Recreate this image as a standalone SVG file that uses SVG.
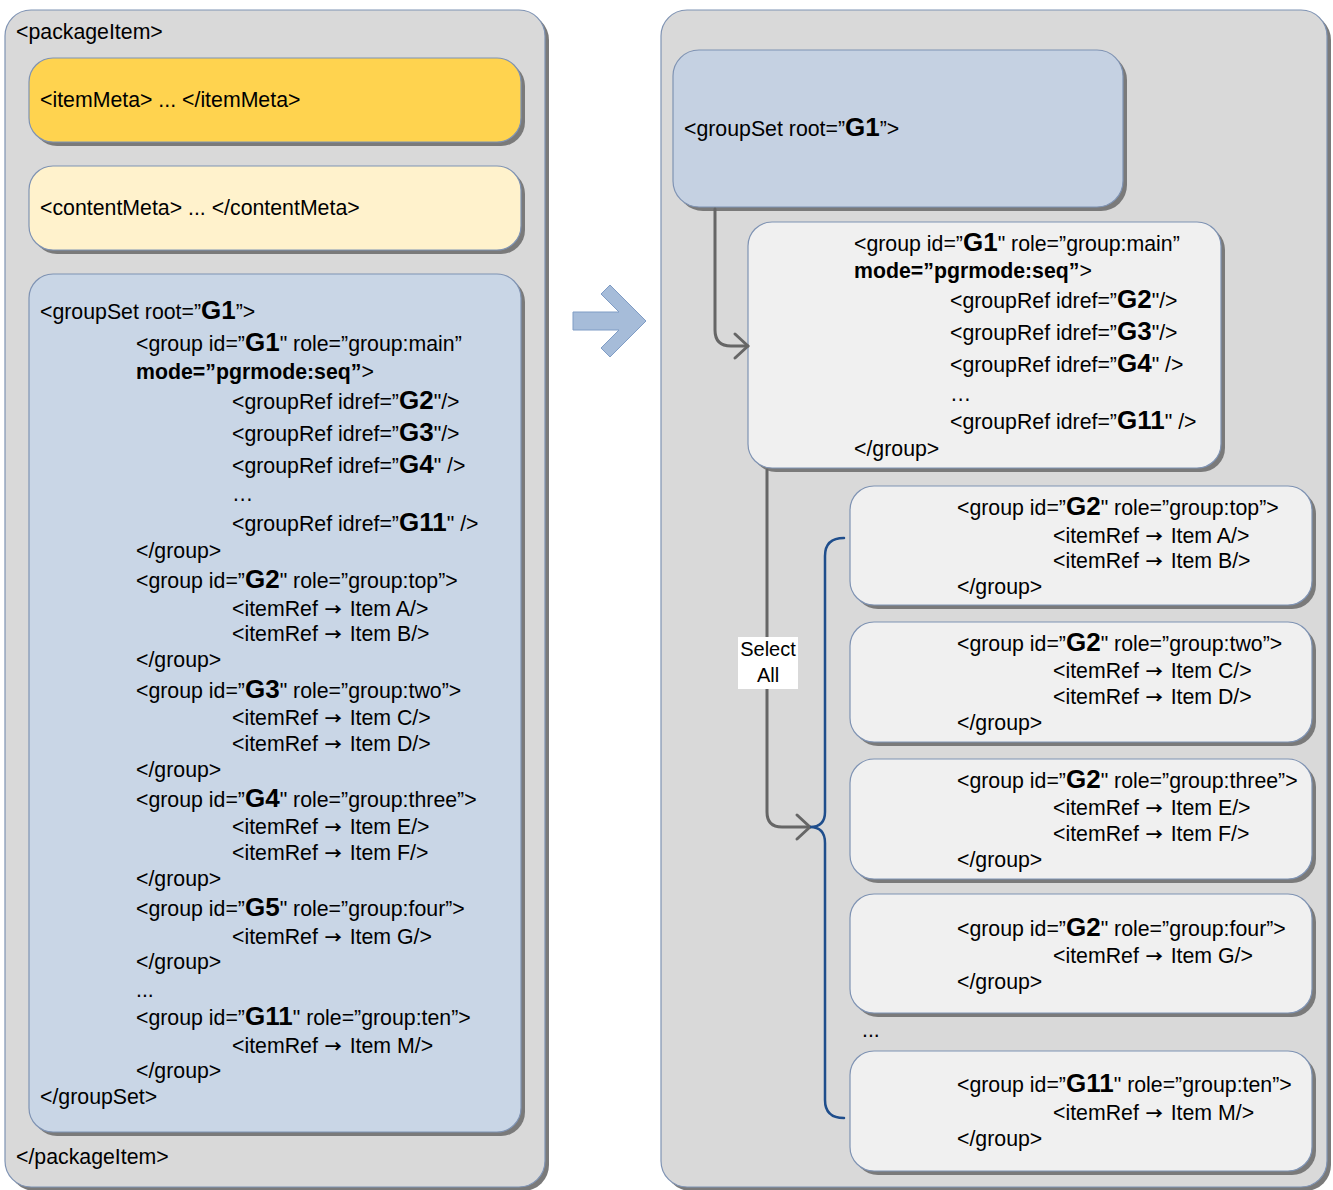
<svg xmlns="http://www.w3.org/2000/svg" width="1333" height="1190" viewBox="0 0 1333 1190">
<defs>
<style>
text{font-family:"Liberation Sans",Arial,sans-serif;font-size:21.3px;fill:#000}
.b{font-weight:bold;font-size:26px}
.mb{font-weight:bold}
.ar{font-family:"Noto Sans CJK SC",sans-serif;font-size:17px;font-weight:bold}
.sh{fill:#7a7a7a}
.panel{fill:#d9d9d9;stroke:#7f93b3;stroke-width:1.2}
.gold{fill:#ffd34f;stroke:#7f93b3;stroke-width:1.2}
.cream{fill:#fff2cc;stroke:#7f93b3;stroke-width:1.2}
.blue{fill:#c9d6e6;stroke:#7f93b3;stroke-width:1.2}
.blue2{fill:#c5d1e2;stroke:#7f93b3;stroke-width:1.2}
.grey{fill:#f0f0f0;stroke:#7f93b3;stroke-width:1.2}
.con{fill:none;stroke:#666;stroke-width:3;stroke-linecap:round;stroke-linejoin:round}
.brace{fill:none;stroke:#1f4e8c;stroke-width:2.5;stroke-linecap:round}
</style>
</defs>
<rect width="1333" height="1190" fill="#fff"/>

<g id="left-panel">
<rect class="sh" x="9" y="14" width="540" height="1177" rx="26"/>
<rect class="panel" x="5" y="10" width="540" height="1177" rx="26"/>
<text x="16" y="39">&lt;packageItem&gt;</text>
<text x="16" y="1164">&lt;/packageItem&gt;</text>
</g>

<g id="itemMeta">
<rect class="sh" x="33" y="62" width="492" height="84" rx="24"/>
<rect class="gold" x="29" y="58" width="492" height="84" rx="24"/>
<text x="40" y="107">&lt;itemMeta&gt; ... &lt;/itemMeta&gt;</text>
</g>

<g id="contentMeta">
<rect class="sh" x="33" y="170" width="492" height="84" rx="24"/>
<rect class="cream" x="29" y="166" width="492" height="84" rx="24"/>
<text x="40" y="215">&lt;contentMeta&gt; ... &lt;/contentMeta&gt;</text>
</g>

<g id="groupSet-left">
<rect class="sh" x="33" y="278" width="492" height="858" rx="24"/>
<rect class="blue" x="29" y="274" width="492" height="858" rx="24"/>
<text x="40" y="319">&lt;groupSet root=”<tspan class="b">G1</tspan>”&gt;</text>
<text x="136" y="351">&lt;group id=”<tspan class="b">G1</tspan>" role=”group:main”</text>
<text x="136" y="379"><tspan class="mb">mode=”pgrmode:seq”</tspan>&gt;</text>
<text x="232" y="409">&lt;groupRef idref=”<tspan class="b">G2</tspan>"/&gt;</text>
<text x="232" y="441">&lt;groupRef idref=”<tspan class="b">G3</tspan>"/&gt;</text>
<text x="232" y="473">&lt;groupRef idref=”<tspan class="b">G4</tspan>" /&gt;</text>
<text x="232" y="501">…</text>
<text x="232" y="531">&lt;groupRef idref=”<tspan class="b">G11</tspan>" /&gt;</text>
<text x="136" y="558">&lt;/group&gt;</text>
<text x="136" y="588">&lt;group id=”<tspan class="b">G2</tspan>" role=”group:top”&gt;</text>
<text x="232" y="616">&lt;itemRef <tspan class="ar" dx="1">→</tspan><tspan dx="2"> Item A/&gt;</tspan></text>
<text x="232" y="641">&lt;itemRef <tspan class="ar" dx="1">→</tspan><tspan dx="2"> Item B/&gt;</tspan></text>
<text x="136" y="667">&lt;/group&gt;</text>
<text x="136" y="698">&lt;group id=”<tspan class="b">G3</tspan>" role=”group:two”&gt;</text>
<text x="232" y="725">&lt;itemRef <tspan class="ar" dx="1">→</tspan><tspan dx="2"> Item C/&gt;</tspan></text>
<text x="232" y="751">&lt;itemRef <tspan class="ar" dx="1">→</tspan><tspan dx="2"> Item D/&gt;</tspan></text>
<text x="136" y="777">&lt;/group&gt;</text>
<text x="136" y="807">&lt;group id=”<tspan class="b">G4</tspan>" role=”group:three”&gt;</text>
<text x="232" y="834">&lt;itemRef <tspan class="ar" dx="1">→</tspan><tspan dx="2"> Item E/&gt;</tspan></text>
<text x="232" y="860">&lt;itemRef <tspan class="ar" dx="1">→</tspan><tspan dx="2"> Item F/&gt;</tspan></text>
<text x="136" y="886">&lt;/group&gt;</text>
<text x="136" y="916">&lt;group id=”<tspan class="b">G5</tspan>" role=”group:four”&gt;</text>
<text x="232" y="944">&lt;itemRef <tspan class="ar" dx="1">→</tspan><tspan dx="2"> Item G/&gt;</tspan></text>
<text x="136" y="969">&lt;/group&gt;</text>
<text x="136" y="997">...</text>
<text x="136" y="1025">&lt;group id=”<tspan class="b">G11</tspan>" role=”group:ten”&gt;</text>
<text x="232" y="1053">&lt;itemRef <tspan class="ar" dx="1">→</tspan><tspan dx="2"> Item M/&gt;</tspan></text>
<text x="136" y="1078">&lt;/group&gt;</text>
<text x="40" y="1104">&lt;/groupSet&gt;</text>
</g>

<g id="big-arrow">
<polygon points="573,312 619,312 601,294 610,285 646,321 610,357 601,348 619,330 573,330" fill="#a6bcd9" stroke="#7f9cc5" stroke-width="1"/>
</g>

<g id="right-panel">
<rect class="sh" x="665" y="14" width="666" height="1177" rx="26"/>
<rect class="panel" x="661" y="10" width="666" height="1177" rx="26"/>
</g>

<g id="groupSet-right">
<rect class="sh" x="677" y="54" width="450" height="157" rx="26"/>
<rect class="blue2" x="673" y="50" width="450" height="157" rx="26"/>
<text x="684" y="136">&lt;groupSet root=”<tspan class="b">G1</tspan>”&gt;</text>
</g>

<g id="group-G1">
<rect class="sh" x="752" y="226" width="473" height="246" rx="24"/>
<rect class="grey" x="748" y="222" width="473" height="246" rx="24"/>
<text x="854" y="251">&lt;group id=”<tspan class="b">G1</tspan>" role=”group:main”</text>
<text x="854" y="278"><tspan class="mb">mode=”pgrmode:seq”</tspan>&gt;</text>
<text x="950" y="308">&lt;groupRef idref=”<tspan class="b">G2</tspan>"/&gt;</text>
<text x="950" y="340">&lt;groupRef idref=”<tspan class="b">G3</tspan>"/&gt;</text>
<text x="950" y="372">&lt;groupRef idref=”<tspan class="b">G4</tspan>" /&gt;</text>
<text x="950" y="401">…</text>
<text x="950" y="429">&lt;groupRef idref=”<tspan class="b">G11</tspan>" /&gt;</text>
<text x="854" y="456">&lt;/group&gt;</text>
</g>

<g id="group-top">
<rect class="sh" x="854" y="490" width="462" height="119" rx="24"/>
<rect class="grey" x="850" y="486" width="462" height="119" rx="24"/>
<text x="957" y="515">&lt;group id=”<tspan class="b">G2</tspan>" role=”group:top”&gt;</text>
<text x="1053" y="543">&lt;itemRef <tspan class="ar" dx="1">→</tspan><tspan dx="2"> Item A/&gt;</tspan></text>
<text x="1053" y="568">&lt;itemRef <tspan class="ar" dx="1">→</tspan><tspan dx="2"> Item B/&gt;</tspan></text>
<text x="957" y="594">&lt;/group&gt;</text>
</g>

<g id="group-two">
<rect class="sh" x="854" y="626" width="462" height="120" rx="24"/>
<rect class="grey" x="850" y="622" width="462" height="120" rx="24"/>
<text x="957" y="651">&lt;group id=”<tspan class="b">G2</tspan>" role=”group:two”&gt;</text>
<text x="1053" y="678">&lt;itemRef <tspan class="ar" dx="1">→</tspan><tspan dx="2"> Item C/&gt;</tspan></text>
<text x="1053" y="704">&lt;itemRef <tspan class="ar" dx="1">→</tspan><tspan dx="2"> Item D/&gt;</tspan></text>
<text x="957" y="730">&lt;/group&gt;</text>
</g>

<g id="group-three">
<rect class="sh" x="854" y="763" width="462" height="120" rx="24"/>
<rect class="grey" x="850" y="759" width="462" height="120" rx="24"/>
<text x="957" y="788">&lt;group id=”<tspan class="b">G2</tspan>" role=”group:three”&gt;</text>
<text x="1053" y="815">&lt;itemRef <tspan class="ar" dx="1">→</tspan><tspan dx="2"> Item E/&gt;</tspan></text>
<text x="1053" y="841">&lt;itemRef <tspan class="ar" dx="1">→</tspan><tspan dx="2"> Item F/&gt;</tspan></text>
<text x="957" y="867">&lt;/group&gt;</text>
</g>

<g id="group-four">
<rect class="sh" x="854" y="898" width="462" height="119" rx="24"/>
<rect class="grey" x="850" y="894" width="462" height="119" rx="24"/>
<text x="957" y="936">&lt;group id=”<tspan class="b">G2</tspan>" role=”group:four”&gt;</text>
<text x="1053" y="963">&lt;itemRef <tspan class="ar" dx="1">→</tspan><tspan dx="2"> Item G/&gt;</tspan></text>
<text x="957" y="989">&lt;/group&gt;</text>
</g>

<text x="862" y="1037">...</text>

<g id="group-ten">
<rect class="sh" x="854" y="1055" width="462" height="120" rx="24"/>
<rect class="grey" x="850" y="1051" width="462" height="120" rx="24"/>
<text x="957" y="1092">&lt;group id=”<tspan class="b">G11</tspan>" role=”group:ten”&gt;</text>
<text x="1053" y="1120">&lt;itemRef <tspan class="ar" dx="1">→</tspan><tspan dx="2"> Item M/&gt;</tspan></text>
<text x="957" y="1146">&lt;/group&gt;</text>
</g>

<g id="connectors">
<path class="con" d="M715,209 V330 Q715,346 731,346 H748"/>
<path class="con" d="M735,334 L748,346 L735,358"/>
<path class="con" d="M767,470 V812 Q767,827 782,827 H810"/>
<path class="con" d="M797,815 L810,827 L797,839"/>
<path class="brace" d="M844,538 Q825,538 825,556 V812 Q825,827 810,827 Q825,827 825,843 V1100 Q825,1118 844,1118"/>
<rect x="738" y="637" width="60" height="52" fill="#fff"/>
<text x="768" y="656" text-anchor="middle" style="font-size:20px">Select</text>
<text x="768" y="682" text-anchor="middle" style="font-size:20px">All</text>
</g>
</svg>
